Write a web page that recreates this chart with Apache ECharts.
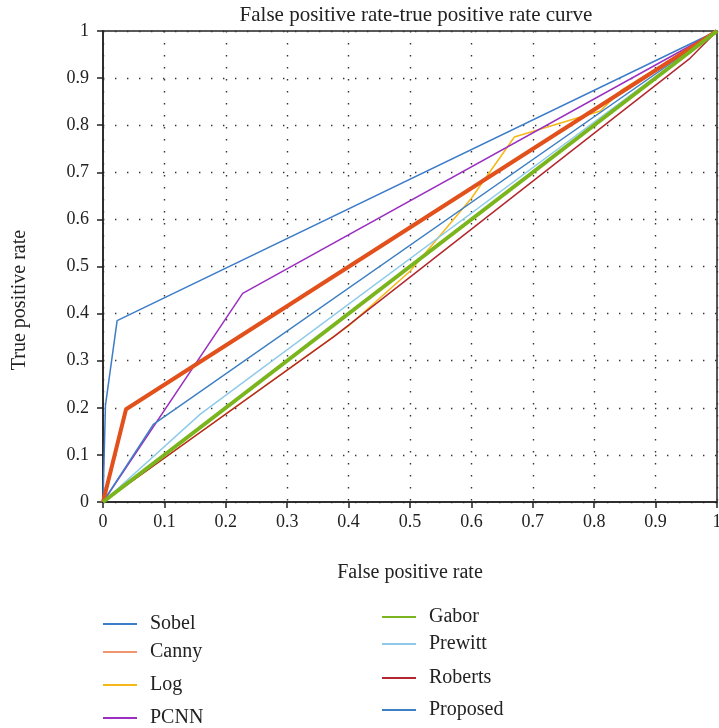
<!DOCTYPE html>
<html>
<head>
<meta charset="utf-8">
<script src="https://cdn.jsdelivr.net/npm/echarts@6/dist/echarts.min.js"></script>
<style>
  html, body { margin: 0; padding: 0; background: #fff; }
  #chart { width: 719px; height: 728px; }
</style>
</head>
<body>
<div id="chart"></div>
<script>
// values (false positive rate / true positive rate)
var names = ['Sobel', 'Canny', 'Log', 'PCNN', 'Gabor', 'Prewitt', 'Roberts', 'Proposed'];
var colors = ['#3d7cc9', '#e2501b', '#f6b816', '#9b30c0', '#7ab51d', '#8ecbea', '#b3282f', '#3f7fc4'];

var sobelFpr = [0, 0.004, 0.023, 1];
var sobelTpr = [0, 0.205, 0.385, 1];
var cannyFpr = [0, 0.0375, 1];
var cannyTpr = [0, 0.197, 1];
var logFpr = [0, 0.4, 0.5, 0.6, 0.67, 0.81, 0.845, 1];
var logTpr = [0, 0.374, 0.49, 0.645, 0.775, 0.83, 0.875, 1];
var pcnnFpr = [0, 0.2275, 1];
var pcnnTpr = [0, 0.443, 1];
var gaborFpr = [0, 1];
var gaborTpr = [0, 1];
var prewittFpr = [0, 0.158, 1];
var prewittTpr = [0, 0.186, 1];
var robertsFpr = [0, 0.375, 0.956, 1];
var robertsTpr = [0, 0.35, 0.942, 1];
var proposedFpr = [0, 0.082, 1];
var proposedTpr = [0, 0.165, 1];

var fprs = [sobelFpr, cannyFpr, logFpr, pcnnFpr, gaborFpr, prewittFpr, robertsFpr, proposedFpr];
var tprs = [sobelTpr, cannyTpr, logTpr, pcnnTpr, gaborTpr, prewittTpr, robertsTpr, proposedTpr];
var widths = [1.5, 4, 1.5, 1.5, 4, 1.5, 1.5, 1.5];

// legend spots: two columns, uneven gaps like the original
var legendLeft = [103, 103, 103, 103, 382, 382, 382, 382];
var legendMid = [623, 651, 684, 717, 616, 643, 677, 709];

var font = 'Liberation Serif';

function pairs(xs, ys) {
    return xs.map(function (x, i) { return [x, ys[i]]; });
}

function tickText(v) {
    if (v === 0) return '0';
    if (Math.abs(v - 1) < 1e-9) return '1';
    return v.toFixed(1);
}

var series = names.map(function (n, i) {
    return {
        name: n,
        type: 'line',
        data: pairs(fprs[i], tprs[i]),
        showSymbol: false,
        symbol: 'none',
        lineStyle: { color: colors[i], width: widths[i] },
        itemStyle: { color: colors[i] },
        z: i === 1 || i === 4 ? 3 : 2,
        animation: false
    };
});

var legends = names.map(function (n, i) {
    return {
        data: [{ name: n, itemStyle: { color: i === 1 ? '#ee9670' : colors[i] } }],
        left: legendLeft[i],
        top: legendMid[i] - 10,
        padding: 0,
        icon: 'rect',
        itemWidth: 34,
        itemHeight: 2,
        itemGap: 0,
        selectedMode: false,
        textStyle: { fontFamily: font, fontSize: 20, color: '#222', padding: [0, 0, 0, 8], lineHeight: 22 }
    };
});

var chart = echarts.init(document.getElementById('chart'), null, { renderer: 'canvas' });
chart.setOption({
    animation: false,
    backgroundColor: '#fff',
    title: {
        text: 'False positive rate-true positive rate curve',
        left: 411,
        textAlign: 'center',
        top: 0,
        textStyle: { fontFamily: font, fontSize: 21, fontWeight: 'normal', color: '#222' }
    },
    legend: legends,
    graphic: [{
        type: 'text',
        x: 20,
        y: 300,
        rotation: Math.PI / 2,
        style: {
            text: 'True positive rate',
            fontFamily: font,
            fontSize: 20,
            fill: '#222',
            align: 'center',
            verticalAlign: 'middle'
        }
    }],
    grid: {
        left: 103,
        right: 2,
        top: 31,
        bottom: 226,
        containLabel: false,
        outerBoundsMode: 'none',
        show: true,
        borderColor: '#222',
        borderWidth: 1.5
    },
    xAxis: {
        type: 'value',
        min: 0,
        max: 1,
        interval: 0.1,
        name: 'False positive rate',
        nameLocation: 'middle',
        nameGap: 61,
        nameTextStyle: { fontFamily: font, fontSize: 20, color: '#222' },
        axisLine: { lineStyle: { color: '#222', width: 1.5 } },
        axisTick: { show: true, inside: false, length: 6, lineStyle: { color: '#222', width: 1.5 } },
        axisLabel: { fontFamily: font, fontSize: 18, color: '#222', margin: 11, formatter: tickText },
        splitLine: { show: true, lineStyle: { color: '#333', width: 1.4, type: [1.4, 10.6] } }
    },
    yAxis: {
        type: 'value',
        min: 0,
        max: 1,
        interval: 0.1,
        axisLine: { show: true, lineStyle: { color: '#222', width: 1.5 } },
        axisTick: { show: true, inside: false, length: 6, lineStyle: { color: '#222', width: 1.5 } },
        axisLabel: { fontFamily: font, fontSize: 18, color: '#222', margin: 14, formatter: tickText },
        splitLine: { show: true, lineStyle: { color: '#333', width: 1.4, type: [1.4, 10.6] } }
    },
    series: series
});
</script>
</body>
</html>
